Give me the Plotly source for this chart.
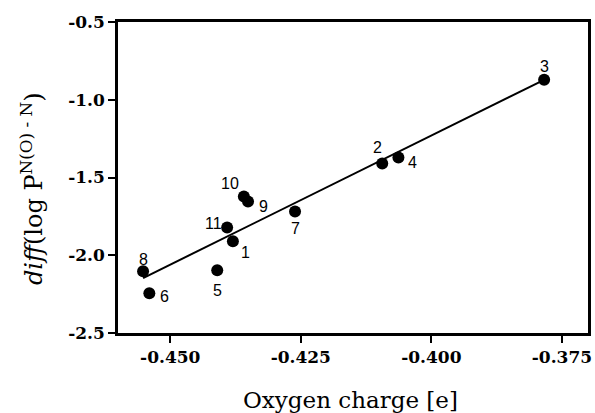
import numpy as np
import plotly.graph_objects as go

labels = ["1", "2", "3", "4", "5", "6", "7", "8", "9", "10", "11"]
charge = [-0.4380, -0.4094, -0.3784, -0.4063, -0.4410, -0.4540, -0.4261, -0.4552, -0.4351, -0.4359, -0.4391]
diff_logp = [-1.910, -1.410, -0.872, -1.372, -2.096, -2.244, -1.718, -2.103, -1.654, -1.622, -1.821]

x_ticks = [-0.450, -0.425, -0.400, -0.375]
x_ticktext = ["-0.450", "-0.425", "-0.400", "-0.375"]
y_ticks = [-2.5, -2.0, -1.5, -1.0, -0.5]
y_ticktext = ["-2.5", "-2.0", "-1.5", "-1.0", "-0.5"]
x_title = "Oxygen charge [e]"
y_title = "<i>diff</i>(log P<sup>N(O) - N</sup>)"

# label offsets in pixels (style)
label_shift = {
    "1": (13, -11), "2": (-5, 16), "3": (0, 13), "4": (14, -5), "5": (0, -20),
    "6": (15, -3), "7": (0, -17), "8": (0, 12), "9": (15, -5), "10": (-14, 13), "11": (-14, 4),
}

slope, intercept = np.polyfit(charge, diff_logp, 1)
fit_x = np.array([min(charge), max(charge)])
fit_y = slope * fit_x + intercept

fig = go.Figure()
fig.add_trace(go.Scatter(x=fit_x, y=fit_y, mode="lines",
                         line=dict(color="black", width=2), showlegend=False, hoverinfo="skip"))
fig.add_trace(go.Scatter(x=charge, y=diff_logp, mode="markers",
                         marker=dict(color="black", size=12), showlegend=False))

for lab, xv, yv in zip(labels, charge, diff_logp):
    dx, dy = label_shift[lab]
    fig.add_annotation(x=xv, y=yv, text=lab, showarrow=False, xshift=dx, yshift=dy,
                       font=dict(family="Liberation Sans, Arial", size=16, color="black"))

serif = "DejaVu Serif, serif"
fig.add_annotation(xref="paper", yref="paper", x=0.494, y=-0.215, text=x_title, showarrow=False,
                   xanchor="center", yanchor="middle", font=dict(family=serif, size=23, color="black"))
fig.add_annotation(xref="paper", yref="paper", x=-0.183, y=0.466, text=y_title, showarrow=False,
                   textangle=-90, xanchor="center", yanchor="middle",
                   font=dict(family=serif, size=24, color="black"))

fig.update_layout(
    width=595, height=413,
    margin=dict(l=118, r=7, t=22, b=80),
    paper_bgcolor="white", plot_bgcolor="white",
    font=dict(family=serif, color="black"),
)
fig.update_xaxes(
    range=[-0.46, -0.37], tickvals=x_ticks, ticktext=x_ticktext, automargin=False,
    ticks="outside", ticklen=7, tickwidth=2, tickcolor="black",
    showline=True, linewidth=2.5, linecolor="black", mirror=True,
    showgrid=False, zeroline=False,
    tickfont=dict(family=serif, size=17, weight="bold"),
)
fig.update_yaxes(
    range=[-2.5, -0.5], tickvals=y_ticks, ticktext=y_ticktext, automargin=False,
    ticks="outside", ticklen=7, tickwidth=2, tickcolor="black",
    showline=True, linewidth=2.5, linecolor="black", mirror=True,
    showgrid=False, zeroline=False,
    tickfont=dict(family=serif, size=17, weight="bold"),
)

fig.write_html("out.html", config={"displayModeBar": False},
               post_script="document.body.style.margin='0';document.body.style.overflow='hidden';")
